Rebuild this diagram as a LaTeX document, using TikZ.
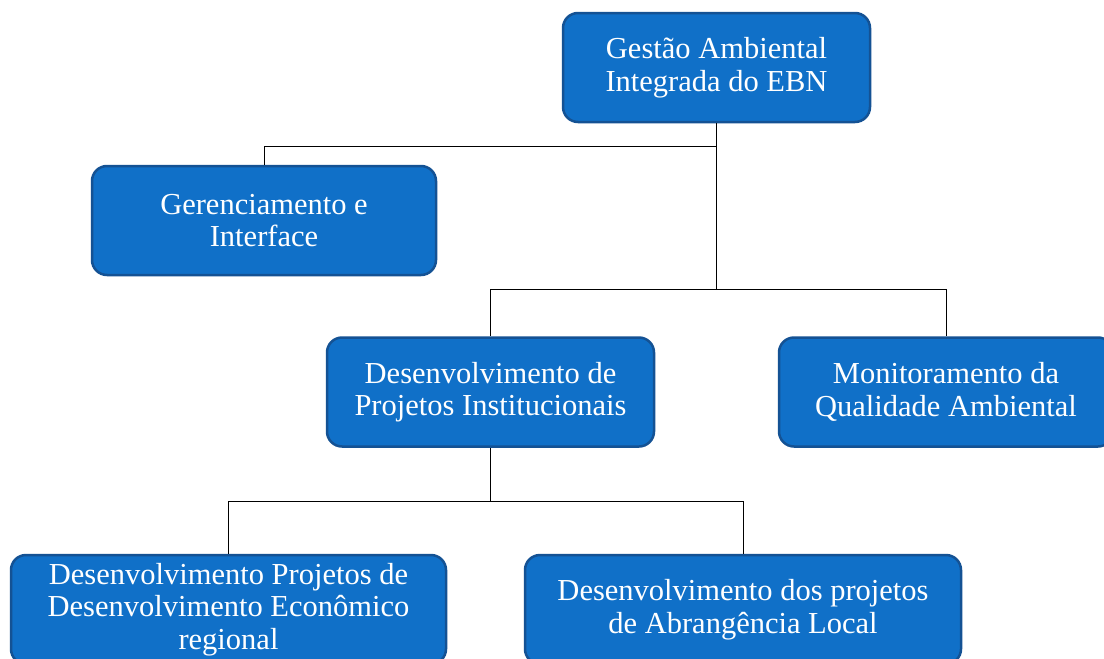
\documentclass[tikz,border=0pt]{standalone}
\usepackage{fontspec}
\setmainfont{Liberation Serif}
\usepackage{xcolor}
\usepackage{tikz}
\usetikzlibrary{positioning}
\definecolor{orgblue}{RGB}{16,112,200}
\definecolor{orgblueDark}{RGB}{20,82,148}

\begin{document}
\begin{tikzpicture}[x=1pt, y=-1pt,
  orgbox/.style={draw=orgblueDark, fill=orgblue, line width=2.5pt, rounded corners=15pt,
    text=white, align=center, inner sep=0pt, minimum height=109pt,
    font=\fontsize{30.5}{32.5}\selectfont},
  orgline/.style={black, line width=1pt}]
  \clip (0,0) rectangle (1104,659);
  \fill[white] (0,0) rectangle (1104,659);
  % boxes
  \node[orgbox, minimum width=307pt] (gestao) at (716.5,67.5) {Gestão Ambiental\\Integrada do EBN};
  \node[orgbox, minimum width=344pt] (gerencia) at (264,220.5) {Gerenciamento e\\Interface};
  \node[orgbox, minimum width=327pt] (projinst) at (490.5,392) {Desenvolvimento de\\Projetos Institucionais};
  \node[orgbox, minimum width=334pt] (monit) at (946,392) {Monitoramento da\\Qualidade Ambiental};
  \node[orgbox, minimum width=435pt] (projeco) at (228.5,609.5) {Desenvolvimento Projetos de\\Desenvolvimento Econômico\\regional};
  \node[orgbox, minimum width=436pt] (projloc) at (743,609.5) {Desenvolvimento dos projetos\\de Abrangência Local};
  % connectors
  \draw[orgline] (gestao.south) -- ++(0,23) -| (gerencia.north);
  \draw[orgline] (gestao.south) -- ++(0,166) -| (projinst.north);
  \draw[orgline] (gestao.south) ++(0,166) -| (monit.north);
  \draw[orgline] (projinst.south) -- ++(0,54) -| (projeco.north);
  \draw[orgline] (projinst.south) ++(0,54) -| (projloc.north);
\end{tikzpicture}
\end{document}
